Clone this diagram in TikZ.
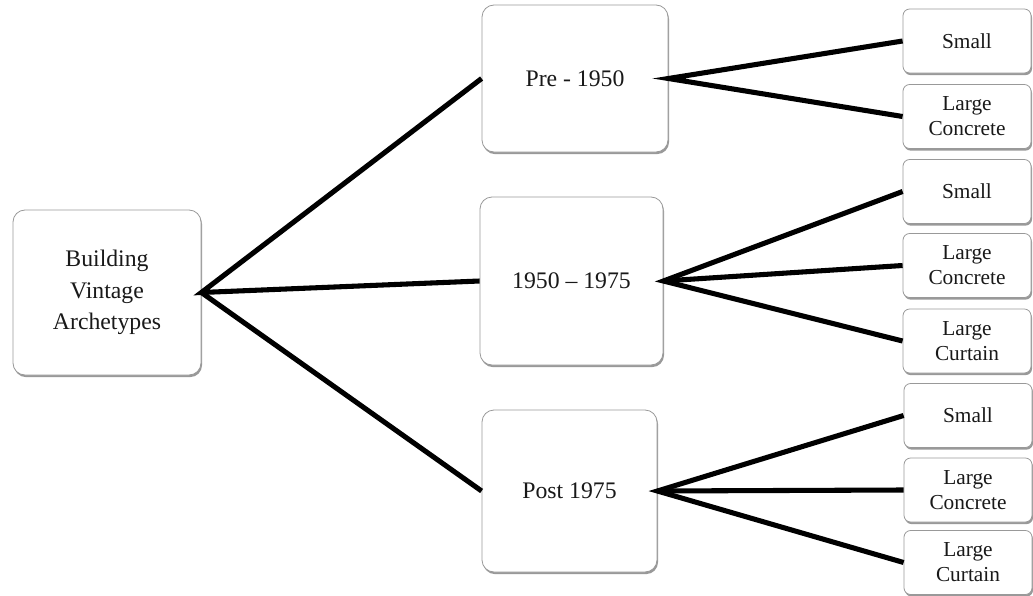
\documentclass[tikz,border=0pt]{standalone}
\usepackage{fontspec}
\setmainfont{Liberation Serif}
\usetikzlibrary{shadows}
\begin{document}
\begin{tikzpicture}[x=0.75pt,y=-0.75pt,
  box/.style={draw=gray!80, line width=0.6pt, fill=white, inner sep=0pt,
    align=center, text=black!90,
    drop shadow={shadow xshift=0.8pt, shadow yshift=-1.6pt, opacity=0.4, fill=black}},
  bigbox/.style={box, rounded corners=9pt, font=\fontsize{17.8}{23.5}\selectfont},
  leafbox/.style={box, rounded corners=5pt, minimum width=96pt, minimum height=48pt,
    font=\fontsize{16}{18.8}\selectfont},
  link/.style={line width=3.8pt, black, line join=miter}]
\useasboundingbox (0,0) rectangle (1033,596);

% root and the three vintage periods
\node[bigbox, minimum width=141pt, minimum height=123.75pt] (root) at (107,292.5) {Building\\Vintage\\Archetypes};
\node[bigbox, minimum width=139.5pt, minimum height=110.25pt] (pre) at (575,78.5) {Pre - 1950};
\node[bigbox, minimum width=137.25pt, minimum height=126pt] (mid) at (571.5,281) {1950 -- 1975};
\node[bigbox, minimum width=131.25pt, minimum height=121.5pt] (post) at (569.5,491) {Post 1975};

% building types per period
\node[leafbox] (s1) at (967,41) {Small};
\node[leafbox] (c1) at (967,116.5) {Large\\Concrete};
\node[leafbox] (s2) at (967,191.5) {Small};
\node[leafbox] (c2) at (967,265.5) {Large\\Concrete};
\node[leafbox] (t2) at (967,341) {Large\\Curtain};
\node[leafbox] (s3) at (968,415.5) {Small};
\node[leafbox] (c3) at (968,490) {Large\\Concrete};
\node[leafbox] (t3) at (968,562.5) {Large\\Curtain};

% connectors
\draw[link] (pre.west) -- (root.east) -- (mid.west);
\draw[link] (root.east) -- (post.west);
\draw[link] (s1.west) -- (pre.east) -- (c1.west);
\draw[link] (s2.west) -- (mid.east) -- (t2.west);
\draw[link] (mid.east) -- (c2.west);
\draw[link] (s3.west) -- (post.east) -- (t3.west);
\draw[link] (post.east) -- (c3.west);
\end{tikzpicture}
\end{document}
